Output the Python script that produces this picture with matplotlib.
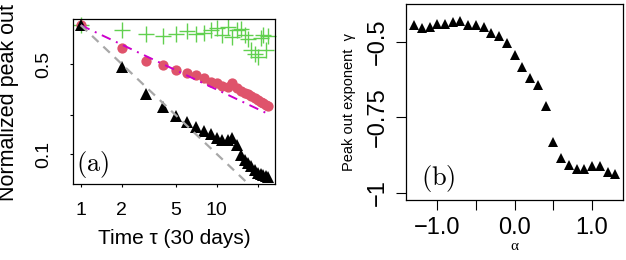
import numpy as np
import matplotlib
matplotlib.use("Agg")
import matplotlib.pyplot as plt

plt.rcParams['font.family'] = ['Liberation Sans', 'DejaVu Sans']
plt.rcParams['mathtext.fontset'] = 'cm'

# ---- Panel (a) data ----
tau = list(range(1, 25))
black_tri = [1.0, 0.476, 0.291, 0.231, 0.199, 0.178, 0.163, 0.151, 0.142, 0.133,
             0.128, 0.128, 0.134, 0.117, 0.098, 0.090, 0.085, 0.080, 0.075, 0.071,
             0.070, 0.069, 0.067, 0.066]
red_circ = [1.0, 0.668, 0.530, 0.489, 0.449, 0.423, 0.410, 0.387, 0.364, 0.354,
            0.337, 0.334, 0.358, 0.324, 0.310, 0.300, 0.290, 0.280, 0.270, 0.262,
            0.255, 0.248, 0.242, 0.236]
green_cross = [1.0, 0.92, 0.86, 0.83, 0.86, 0.90, 0.85, 0.87, 0.91, 0.95,
               0.84, 0.96, 0.81, 0.91, 0.94, 0.84, 0.78, 0.64, 0.60, 0.57,
               0.80, 0.84, 0.64, 0.82]
fit_red_exp = -0.5
fit_black_exp = -1.0
fit_red_tau = [1, 23]
fit_black_tau = [1, 24]
xticks_a = [1, 2, 5, 10, 20]
xticklabels_a = ['1', '2', '5', '10', '']
yticks_a = [0.1, 0.2, 0.5]
yticklabels_a = ['0.1', '', '0.5']

# ---- Panel (b) data ----
alpha = [-1.3, -1.2, -1.1, -1.0, -0.9, -0.8, -0.7, -0.6, -0.5, -0.4, -0.3, -0.2, -0.1,
         0.0, 0.1, 0.2, 0.3, 0.4, 0.5, 0.6, 0.7, 0.8, 0.9, 1.0, 1.1, 1.2, 1.3]
gamma = [-0.445, -0.456, -0.452, -0.441, -0.441, -0.434, -0.430, -0.445, -0.445, -0.452,
         -0.472, -0.481, -0.505, -0.544, -0.583, -0.621, -0.643, -0.713, -0.831, -0.883,
         -0.908, -0.919, -0.919, -0.911, -0.911, -0.930, -0.938]
xticks_b = [-1.0, -0.5, 0.0, 0.5, 1.0]
xticklabels_b = ['\u22121.0', '', '0.0', '', '1.0']
yticks_b = [-1.0, -0.75, -0.5]
yticklabels_b = ['\u22121', '\u22120.75', '\u22120.5']

W, H = 626, 260
fig = plt.figure(figsize=(W / 100, H / 100), dpi=100)

def box(l, t, r, b):
    return [l / W, 1 - b / H, (r - l) / W, (b - t) / H]

# ---------------- Panel (a) ----------------
ax = fig.add_axes(box(73, 19, 275, 184))
ax.set_xscale('log')
ax.set_yscale('log')
ax.plot(tau, green_cross, linestyle='none', marker='+', ms=11, mew=1.0,
        color='#61D04F', clip_on=False, zorder=2)
ax.plot(tau, red_circ, linestyle='none', marker='o', ms=7.4, mew=0,
        color='#DF536B', zorder=3)
ax.plot(tau, black_tri, linestyle='none', marker='^', ms=8.5, mew=0,
        color='black', zorder=4)
tr = np.array(fit_red_tau, dtype=float)
ax.plot(tr, tr ** fit_red_exp, color='#CC00CC', lw=1.4,
        dashes=(5, 3, 1, 3), zorder=5)
tb = np.array(fit_black_tau, dtype=float)
ax.plot(tb, tb ** fit_black_exp, color='#A8A8A8', lw=1.6,
        dashes=(4, 3), zorder=5)
ax.set_xlim(0.877, 26.8)
ax.set_ylim(0.0585, 1.117)
ax.set_xticks(xticks_a)
ax.set_xticklabels(xticklabels_a)
ax.set_yticks(yticks_a)
ax.set_yticklabels(yticklabels_a, rotation=90, va='center')
ax.xaxis.set_minor_locator(matplotlib.ticker.NullLocator())
ax.yaxis.set_minor_locator(matplotlib.ticker.NullLocator())
ax.tick_params(axis='x', length=2.5, width=0.8, pad=10.5, labelsize=14)
ax.tick_params(axis='y', length=2.5, width=0.8, pad=12.5, labelsize=14)
for s in ax.spines.values():
    s.set_linewidth(0.9)
ax.set_xlabel('Time \u03c4 (30 days)', fontsize=15, labelpad=7)
ax.text(0.015, 0.12, r'$\mathrm{(a)}$', transform=ax.transAxes,
        fontsize=19, ha='left', va='center')
fig.text(9 / W, 1 - 201 / H, 'Normalized peak out', rotation=90,
         ha='center', va='bottom', fontsize=15.5)

# ---------------- Panel (b) ----------------
bx = fig.add_axes(box(406, 4.3, 623.3, 200.3))
bx.plot(alpha, gamma, linestyle='none', marker='^', ms=7.5, mew=0, color='black')
bx.set_xlim(-1.404, 1.404)
bx.set_ylim(-1.024, -0.376)
bx.set_xticks(xticks_b)
bx.set_xticklabels(xticklabels_b)
bx.set_yticks(yticks_b)
bx.set_yticklabels(yticklabels_b, rotation=90, va='center')
bx.tick_params(axis='x', length=7, width=0.8, pad=5, labelsize=17)
bx.tick_params(axis='y', length=7, width=0.8, pad=5, labelsize=17)
for s in bx.spines.values():
    s.set_linewidth(0.9)
bx.set_ylabel('Peak out exponent  \u03b3', fontsize=10.5, labelpad=8)
bx.set_xlabel('\u03b1', fontsize=11, family=['Liberation Serif', 'DejaVu Serif'], labelpad=1)
bx.text(0.068, 0.11, r'$\mathrm{(b)}$', transform=bx.transAxes,
        fontsize=19, ha='left', va='center')

fig.savefig('out.png', dpi=100)
